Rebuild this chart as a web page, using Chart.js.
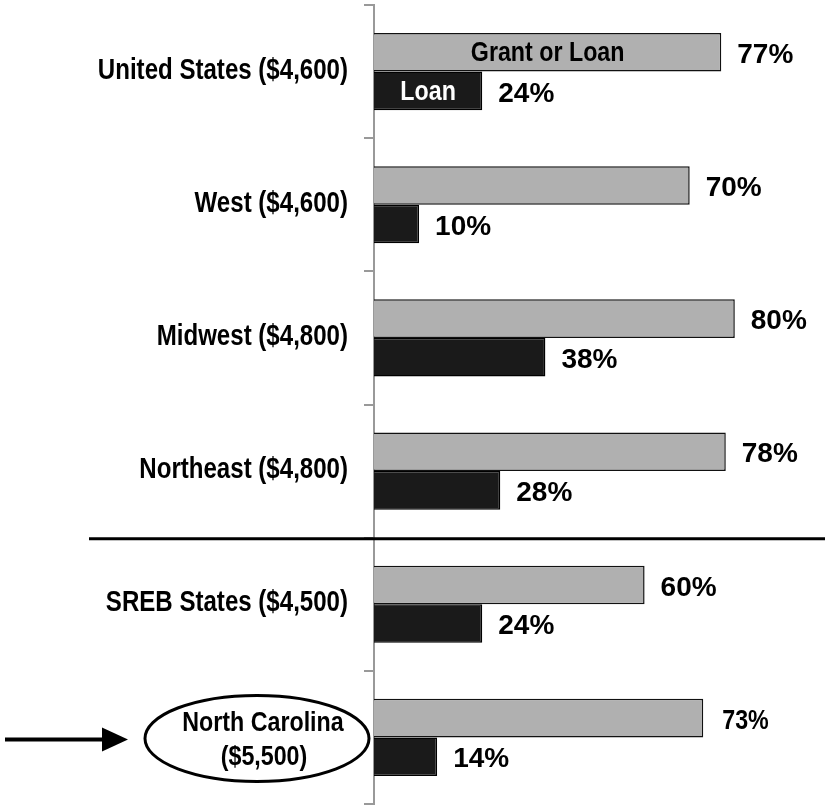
<!DOCTYPE html>
<html>
<head>
<meta charset="utf-8">
<script src="https://cdn.jsdelivr.net/npm/chart.js@4.4.0/dist/chart.umd.min.js"></script>
<style>
  html, body { margin: 0; padding: 0; background: #fff; }
  #wrap { width: 825px; height: 806px; position: relative; }
</style>
</head>
<body>
<div id="wrap"><canvas id="chart"></canvas></div>
<script>
const categories = [
  ["United States ($4,600)"],
  ["West ($4,600)"],
  ["Midwest ($4,800)"],
  ["Northeast ($4,800)"],
  ["SREB States ($4,500)"],
  ["North Carolina", "($5,500)"]
];
const seriesNames = ["Grant or Loan", "Loan"];
const grantOrLoan = [77, 70, 80, 78, 60, 73];
const loanOnly = [24, 10, 38, 28, 24, 14];

const FONT = '"Liberation Sans", Arial, sans-serif';
const HIGHLIGHT = 5;

// no narrow face installed, so squeeze the regular bold one
function narrowText(ctx, text, x, y, size, align) {
  ctx.save();
  ctx.font = "bold " + size + "px " + FONT;
  ctx.textAlign = align;
  ctx.textBaseline = "middle";
  ctx.translate(x, y);
  ctx.scale(0.83, 1);
  ctx.fillText(text, 0, 0);
  ctx.restore();
}

const overlay = {
  id: "overlay",
  afterDraw(chart) {
    const ctx = chart.ctx;
    const y = chart.scales.y;
    const area = chart.chartArea;
    ctx.save();
    ctx.fillStyle = "#000";
    ctx.strokeStyle = "#000";

    // category labels
    categories.forEach((lines, i) => {
      const cy = y.getPixelForValue(i);
      if (i === HIGHLIGHT) {
        narrowText(ctx, lines[0], 263, cy - 14, 28, "center");
        narrowText(ctx, lines[1], 264, cy + 20, 28, "center");
        ctx.beginPath();
        ctx.lineWidth = 3;
        ctx.ellipse(257, cy + 1, 112, 43, 0, 0, Math.PI * 2);
        ctx.stroke();
        ctx.beginPath();
        ctx.lineWidth = 4;
        ctx.moveTo(5, cy + 2);
        ctx.lineTo(106, cy + 2);
        ctx.stroke();
        ctx.beginPath();
        ctx.moveTo(128, cy + 2);
        ctx.lineTo(102, cy - 10);
        ctx.lineTo(102, cy + 14);
        ctx.closePath();
        ctx.fill();
      } else {
        narrowText(ctx, lines[0], 348, cy - 1, 29, "right");
      }
    });

    // separator between regions and SREB
    const sepY = (y.getPixelForValue(3) + y.getPixelForValue(4)) / 2;
    ctx.beginPath();
    ctx.lineWidth = 3;
    ctx.moveTo(89, sepY + 1);
    ctx.lineTo(825, sepY + 1);
    ctx.stroke();

    // value labels
    chart.data.datasets.forEach((ds, di) => {
      const meta = chart.getDatasetMeta(di);
      meta.data.forEach((bar, i) => {
        ctx.fillStyle = "#000";
        if (i === HIGHLIGHT && di === 0) {
          narrowText(ctx, ds.data[i] + "%", bar.x + 19, bar.y + 3, 28, "left");
        } else {
          ctx.font = "bold 28px " + FONT;
          ctx.textAlign = "left";
          ctx.textBaseline = "middle";
          ctx.fillText(ds.data[i] + "%", bar.x + 16, bar.y + 3);
        }
      });
      // series names inside the first group
      const first = meta.data[0];
      ctx.fillStyle = di === 0 ? "#000" : "#fff";
      narrowText(ctx, ds.label, (area.left + first.x) / 2, first.y + 1, 28, "center");
    });
    ctx.restore();
  }
};

new Chart(document.getElementById("chart"), {
  type: "bar",
  data: {
    labels: categories,
    datasets: [
      {
        label: seriesNames[0],
        data: grantOrLoan,
        backgroundColor: "#b0b0b0",
        borderColor: "#111",
        borderWidth: 1.5
      },
      {
        label: seriesNames[1],
        data: loanOnly,
        backgroundColor: "#1a1a1a",
        borderColor: "#000",
        borderWidth: 1.5
      }
    ]
  },
  options: {
    indexAxis: "y",
    responsive: true,
    maintainAspectRatio: false,
    animation: false,
    layout: { padding: { top: 5, bottom: 2, left: 0, right: 0 } },
    datasets: { bar: { barPercentage: 1, categoryPercentage: 0.58 } },
    plugins: { legend: { display: false }, tooltip: { enabled: false } },
    scales: {
      x: { display: false, min: 0, max: 100 },
      y: {
        afterFit(scale) { scale.width = 374; },
        ticks: { display: false },
        grid: {
          drawOnChartArea: false,
          drawTicks: true,
          tickLength: 10,
          color: "#999",
          lineWidth: 2,
          offset: true
        },
        border: { display: true, color: "#999", width: 2 }
      }
    }
  },
  plugins: [overlay]
});
</script>
</body>
</html>
